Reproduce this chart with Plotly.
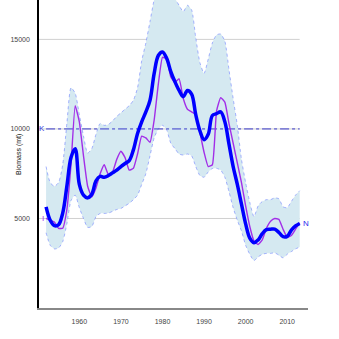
import plotly.graph_objects as go

years = list(range(1952, 2014))

biomass = [5650, 4900, 4600, 4650, 5300, 6800, 8400, 8900, 6900, 6300,
           6150, 6350, 7100, 7350, 7300, 7400, 7550, 7700, 7900, 8070,
           8230, 8830, 9750, 10400, 10950, 11600, 13100, 14100, 14300, 13950,
           13200, 12630, 12150, 11800, 12150, 11950, 10800, 9900, 9400, 9700,
           10750, 10850, 10950, 10400, 9150, 7900, 6900, 5800, 4700, 3900,
           3650, 3800, 4150, 4380, 4400, 4400, 4220, 3980, 4000, 4350,
           4580, 4720]

index = [5000, 4900, 4800, 4450, 4450, 5500, 8000, 11300, 10400, 8500,
         6800, 6200, 6700, 7500, 8000, 7450, 7600, 8300, 8750, 8400,
         7700, 7800, 8600, 9600, 9500, 9250, 10500, 12500, 14000, 13900,
         12900, 12600, 12800, 11700, 11100, 10950, 10800, 9800, 8700, 7900,
         8000, 11000, 11750, 11500, 10300, 9200, 8100, 7000, 5700, 4550,
         3750, 3550, 3800, 4450, 4850, 5000, 4950, 4400, 3950, 4050,
         4400, 4750]

upper = [7900, 7000, 6800, 7000, 8000, 10300, 12300, 12000, 10800, 9600,
         8650, 8900, 9700, 10300, 10200, 10250, 10450, 10700, 10900, 11100,
         11300, 11600, 12300, 13800, 14800, 16000, 17200, 17800, 18200, 18300,
         18000, 17300, 16900, 16550, 16900, 16650, 15100, 13700, 13100, 13900,
         14800, 15250, 15300, 14900, 13300, 11700, 10200, 8300, 7000, 5900,
         5100, 5700, 5950, 6050, 6050, 6150, 6100, 5650, 5600, 5950,
         6300, 6550]

lower = [4200, 3500, 3300, 3350, 3700, 4700, 6000, 6300, 5600, 5000,
         4500, 4550, 5100, 5280, 5280, 5300, 5400, 5500, 5560, 5700,
         5850, 6050, 6300, 6900, 7500, 8500, 9500, 10000, 10200, 9950,
         9200, 8900, 8600, 8540, 8600, 8500, 7900, 7400, 7300, 7600,
         7790, 7800, 7700, 7300, 6500, 5600, 4900, 4300, 3500, 3000,
         2650, 2850, 3000, 3050, 3050, 3080, 2950, 2800, 3000, 3150,
         3300, 3400]

K = 10000
y_ticks = [5000, 10000, 15000]
x_ticks = [1960, 1970, 1980, 1990, 2000, 2010]

band_edge = dict(color='rgba(110,130,255,0.75)', width=0.8, dash='dot', shape='spline', smoothing=0.6)

fig = go.Figure()

fig.add_trace(go.Scatter(x=years, y=upper, mode='lines', line=band_edge,
                         hoverinfo='skip', showlegend=False))
fig.add_trace(go.Scatter(x=years, y=lower, mode='lines', line=band_edge,
                         fill='tonexty', fillcolor='#d5e9f1',
                         hoverinfo='skip', showlegend=False))

# grid lines only as far as the data goes
for v in y_ticks:
    fig.add_shape(type='line', xref='x', yref='y', x0=1950.3, x1=years[-1], y0=v, y1=v,
                  line=dict(color='#d0d0d0', width=1), layer='below')

fig.add_trace(go.Scatter(x=[years[0], years[-1]], y=[K, K], mode='lines',
                         line=dict(color='#3a3acc', width=1, dash='dashdot'),
                         hoverinfo='skip', showlegend=False))

fig.add_trace(go.Scatter(x=years, y=index, mode='lines',
                         line=dict(color='#a22ee8', width=1.4, shape='spline', smoothing=0.4),
                         showlegend=False))
fig.add_trace(go.Scatter(x=years, y=biomass, mode='lines',
                         line=dict(color='#0000ff', width=3.5, shape='spline', smoothing=1),
                         showlegend=False))

fig.add_annotation(x=years[0], y=K, text='K', showarrow=False, xanchor='center', xshift=-4,
                   font=dict(color='#4040dd', size=8, family='Liberation Sans'))
fig.add_annotation(x=years[-1], y=biomass[-1], text='N', showarrow=False, xanchor='left', xshift=1,
                   font=dict(color='#2a2aee', size=8, family='Liberation Sans'))
fig.add_annotation(x=years[0], y=index[0], text='I', showarrow=False, xanchor='center', xshift=-3,
                   font=dict(color='#a22ee8', size=8, family='Liberation Sans'))
fig.add_annotation(xref='paper', yref='paper', x=-0.097, y=0.5, text='Biomass (mt)',
                   textangle=-90, showarrow=False,
                   font=dict(color='#111111', size=7, family='Liberation Sans'))

fig.update_layout(
    width=339, height=339,
    margin=dict(l=39, r=31, t=0, b=31),
    paper_bgcolor='white', plot_bgcolor='white',
    font=dict(family='Liberation Sans', size=7, color='#444444'),
    xaxis=dict(range=[1950.3, 2015], tickvals=x_ticks, showgrid=False, zeroline=False,
               showline=True, linecolor='#888888', linewidth=2, ticks='', ticklen=0,
               ticklabelstandoff=6),
    yaxis=dict(range=[0, 17200], tickvals=y_ticks, tickformat='d', showgrid=False,
               zeroline=False, showline=True, linecolor='#000000', linewidth=1.5,
               ticks='', ticklen=0, ticklabelstandoff=6),
)

fig.write_html("out.html", config={'displayModeBar': False},
               post_script="document.body.style.margin='0';")
